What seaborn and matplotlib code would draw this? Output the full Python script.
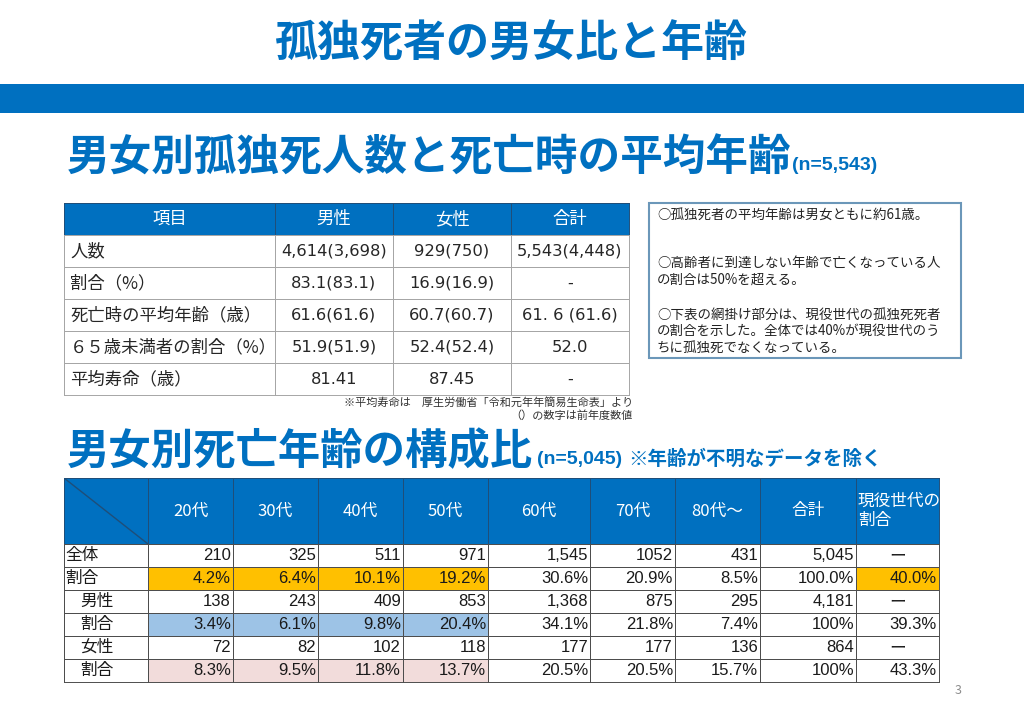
import numpy as np
import matplotlib
matplotlib.use("Agg")
import matplotlib.pyplot as plt
from matplotlib.colors import ListedColormap
from matplotlib.patches import Rectangle
from matplotlib import font_manager
import seaborn as sns

# ---------------- data ----------------
title = "孤独死者の男女比と年齢"
heading1 = "男女別孤独死人数と死亡時の平均年齢"
heading1_note = "(n=5,543)"
heading2 = "男女別死亡年齢の構成比"
heading2_note_n = "(n=5,045)"
heading2_note = "※年齢が不明なデータを除く"

top_columns = ["項目", "男性", "女性", "合計"]
top_items = ["人数", "割合（%）", "死亡時の平均年齢（歳）", "６５歳未満者の割合（%）", "平均寿命（歳）"]
male_vals = ["4,614(3,698)", "83.1(83.1)", "61.6(61.6)", "51.9(51.9)", "81.41"]
female_vals = ["929(750)", "16.9(16.9)", "60.7(60.7)", "52.4(52.4)", "87.45"]
total_vals = ["5,543(4,448)", "-", "61. 6 (61.6)", "52.0", "-"]
footnotes = ["※平均寿命は　厚生労働省「令和元年年簡易生命表」より", "（）の数字は前年度数値"]

notes = ["○孤独死者の平均年齢は男女ともに約61歳。",
         "○高齢者に到達しない年齢で亡くなっている人\nの割合は50%を超える。",
         "○下表の網掛け部分は、現役世代の孤独死死者\nの割合を示した。全体では40%が現役世代のう\nちに孤独死でなくなっている。"]

age_groups = ["20代", "30代", "40代", "50代", "60代", "70代", "80代～", "合計", "現役世代の\n割合"]
row_labels = ["全体", "割合", "男性", "割合", "女性", "割合"]
all_counts = ["210", "325", "511", "971", "1,545", "1052", "431", "5,045", "ー"]
all_share = ["4.2%", "6.4%", "10.1%", "19.2%", "30.6%", "20.9%", "8.5%", "100.0%", "40.0%"]
male_counts = ["138", "243", "409", "853", "1,368", "875", "295", "4,181", "ー"]
male_share = ["3.4%", "6.1%", "9.8%", "20.4%", "34.1%", "21.8%", "7.4%", "100%", "39.3%"]
female_counts = ["72", "82", "102", "118", "177", "177", "136", "864", "ー"]
female_share = ["8.3%", "9.5%", "11.8%", "13.7%", "20.5%", "20.5%", "15.7%", "100%", "43.3%"]
page_number = "3"

# ---------------- style ----------------
sns.set_theme(style="white")
JP = "Noto Sans CJK JP"
plt.rcParams["font.family"] = [JP, "DejaVu Sans"]
_names = {f.name for f in font_manager.fontManager.ttflist}
NARROW = "Liberation Sans Narrow" if "Liberation Sans Narrow" in _names else "Liberation Sans"

BLUE = "#0070c0"
W, H = 1024, 724
fig = plt.figure(figsize=(W / 100, H / 100), dpi=100)
fig.patch.set_facecolor("white")
bg = fig.add_axes([0, 0, 1, 1])
bg.set_xlim(0, W)
bg.set_ylim(H, 0)
bg.axis("off")

# title and band
bg.text(511, 44, title, color=BLUE, fontsize=31, fontweight="bold", ha="center", va="center")
bg.add_patch(Rectangle((0, 84), W, 29, color=BLUE, lw=0))

# headings
bg.text(67, 158, heading1, color=BLUE, fontsize=30.7, fontweight="bold", ha="left", va="center")
bg.text(792, 166, heading1_note, color=BLUE, fontsize=14, fontweight="bold", family=[NARROW, JP],
        ha="left", va="center")
bg.text(67, 452, heading2, color=BLUE, fontsize=30.5, fontweight="bold", ha="left", va="center")
bg.text(537, 460, heading2_note_n, color=BLUE, fontsize=14, fontweight="bold", family=[NARROW, JP],
        ha="left", va="center")
bg.text(628, 459, heading2_note, color=BLUE, fontsize=14, fontweight="bold", ha="left", va="center")

# notes box
bg.add_patch(Rectangle((649, 203), 312, 155, fill=False, ec="#6b97b9", lw=1.5))
note_y = [215, 271, 331]
for y, s in zip(note_y, notes):
    bg.text(657, y, s, fontsize=9.7, color="#222222", ha="left", va="center", linespacing=1.22)

# footnotes
bg.text(633, 402, footnotes[0], fontsize=8, color="#333333", ha="right", va="center")
bg.text(633, 416, footnotes[1], fontsize=8, color="#333333", ha="right", va="center")
bg.text(958, 690, page_number, fontsize=9, color="#8c8c8c", ha="center", va="center")


def cell_block(x0, x1, y0, y1, codes, labels, colors, line_color, fontsize, family,
               text_color, align="center", pad=4, indents=None, lw=0.7):
    ax = fig.add_axes([x0 / W, 1 - y1 / H, (x1 - x0) / W, (y1 - y0) / H])
    cmap = ListedColormap(colors)
    codes_arr = np.asarray(codes, dtype=float).reshape(-1, 1)
    lab_arr = np.asarray(labels, dtype=object).reshape(-1, 1)
    sns.heatmap(codes_arr, cmap=cmap, vmin=-0.5, vmax=len(colors) - 0.5, annot=lab_arr, fmt="",
                cbar=False, linewidths=lw, linecolor=line_color, xticklabels=False,
                yticklabels=False, ax=ax,
                annot_kws=dict(fontsize=fontsize, family=family, color=text_color))
    w = x1 - x0
    for i, t in enumerate(ax.texts):
        extra = indents[i] if indents is not None else 0
        if align == "right":
            t.set_x(1 - pad / w)
            t.set_ha("right")
        elif align == "left":
            t.set_x((pad + extra) / w)
            t.set_ha("left")
    for s in ax.spines.values():
        s.set_visible(True)
        s.set_color(line_color)
        s.set_linewidth(lw)
    return ax


# ---------------- top table ----------------
top_x = [64, 275, 393, 511, 629]
top_head = (203, 235)
top_body = (235, 395)
GRID = "#a6a6a6"
HEAD_LINE = "#1f4e79"
body_cols = [top_items, male_vals, female_vals, total_vals]
for j, name in enumerate(top_columns):
    cell_block(top_x[j], top_x[j + 1], *top_head, [0], [name], [BLUE], HEAD_LINE, 12.5,
               [JP], "white")
    if j == 0:
        cell_block(top_x[j], top_x[j + 1], *top_body, [0] * len(top_items), body_cols[j],
                   ["white"], GRID, 12.5, [JP], "#262626", align="left", pad=6)
    else:
        cell_block(top_x[j], top_x[j + 1], *top_body, [0] * len(top_items), body_cols[j],
                   ["white"], GRID, 11.8, ["DejaVu Sans", JP], "#262626", align="center")

# ---------------- bottom table ----------------
bot_x = [64, 148, 233, 318, 403, 488, 590, 675, 760, 856, 939]
bot_head = (478, 544)
bot_body = (544, 682)
working_age = 4                      # first four age groups = working generation
row_shade = [0, 1, 0, 2, 0, 3]       # 0 white, 1 orange, 2 blue, 3 pink
shade_colors = ["white", "#ffc000", "#9dc3e6", "#f2dcdb"]
rows = [all_counts, all_share, male_counts, male_share, female_counts, female_share]
BOT_LINE = "#4d4d4d"

# header
hax = cell_block(bot_x[0], bot_x[1], *bot_head, [0], [""], [BLUE], HEAD_LINE, 12, [JP], "white")
hax.plot([0, 1], [0, 1], color=HEAD_LINE, lw=1)
for j, g in enumerate(age_groups):
    last = j == len(age_groups) - 1
    cell_block(bot_x[j + 1], bot_x[j + 2], *bot_head, [0], [g], [BLUE], HEAD_LINE, 12, [JP],
               "white", align="left" if last else "center", pad=2)

# label column
cell_block(bot_x[0], bot_x[1], *bot_body, [0] * len(row_labels), row_labels, ["white"],
           BOT_LINE, 12, [JP], "#1a1a1a", align="left", pad=1,
           indents=[0, 0, 15, 15, 15, 15])

# value columns
for j in range(len(age_groups)):
    codes = []
    for r in range(len(rows)):
        shaded = j < working_age or (j == len(age_groups) - 1 and row_shade[r] == 1)
        codes.append(row_shade[r] if shaded else 0)
    vals = [rows[r][j] for r in range(len(rows))]
    last = j == len(age_groups) - 1
    ax = cell_block(bot_x[j + 1], bot_x[j + 2], *bot_body, codes, vals, shade_colors, BOT_LINE,
                    12, [NARROW, JP], "#1a1a1a", align="right", pad=2)
    if last:
        for t in ax.texts:
            if t.get_text() == "ー":
                t.set_x(0.5)
                t.set_ha("center")

fig.savefig("out.png", dpi=100, facecolor="white")
